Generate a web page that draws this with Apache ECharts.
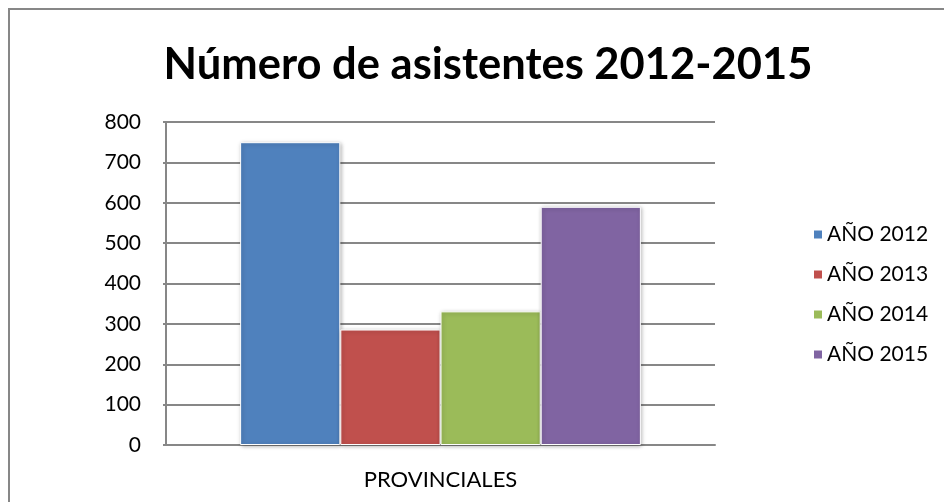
<!DOCTYPE html>
<html><head><meta charset="utf-8">
<script src="https://cdn.jsdelivr.net/npm/echarts@6/dist/echarts.min.js"></script>
<style>html,body{margin:0;padding:0;background:#fff}#c{width:944px;height:502px}</style>
</head><body><div id="c"></div>
<script>
const categories = ['PROVINCIALES'];
const seriesNames = ['AÑO 2012', 'AÑO 2013', 'AÑO 2014', 'AÑO 2015'];
const values2012 = [750];
const values2013 = [286];
const values2014 = [331];
const values2015 = [590];
const colors = ['#4F81BD', '#C0504D', '#9BBB59', '#8064A2'];
const allValues = [values2012, values2013, values2014, values2015];

const chart = echarts.init(document.getElementById('c'));
const font = 'Lato, Carlito, Calibri, sans-serif';
chart.setOption({
  animation: false,
  title: {
    text: 'Número de asistentes 2012-2015',
    left: 483, top: 38, textAlign: 'center',
    textStyle: {fontFamily: font, fontWeight: 'bold', fontSize: 43.5, color: '#000'}
  },
  graphic: [{
    type: 'rect', shape: {x: 9, y: 9, width: 1000, height: 600},
    style: {fill: 'none', stroke: '#878787', lineWidth: 2}, silent: true, z: 100
  }],
  legend: {
    orient: 'vertical', left: 807, top: 219, itemGap: 19,
    itemWidth: 10, itemHeight: 10, icon: 'rect',
    textStyle: {fontFamily: font, fontSize: 21, lineHeight: 21, color: '#000', padding: [0,0,0,-1]},
    data: seriesNames
  },
  grid: {left: 166, right: 229, top: 122, bottom: 57, containLabel: false},
  xAxis: {
    type: 'category', data: categories,
    axisLine: {lineStyle: {color: '#878787', width: 2}},
    axisTick: {show: false},
    axisLabel: {fontFamily: font, fontSize: 22, color: '#000', margin: 24}
  },
  yAxis: {
    type: 'value', min: 0, max: 800, interval: 100,
    axisLine: {show: true, lineStyle: {color: '#878787', width: 2}},
    axisTick: {show: true, length: 3, lineStyle: {color: '#878787', width: 2}},
    splitLine: {lineStyle: {color: '#878787', width: 2}},
    axisLabel: {fontFamily: font, fontSize: 21, color: '#000', margin: 25}
  },
  series: seriesNames.map((n, i) => ({
    name: n, type: 'bar', data: allValues[i],
    barGap: '0%', barCategoryGap: '27%',
    itemStyle: {color: colors[i], borderColor: '#fff', borderWidth: 1,
      shadowColor: 'rgba(0,0,0,0.3)', shadowBlur: 4, shadowOffsetX: 1, shadowOffsetY: 1}
  }))
});
</script></body></html>
